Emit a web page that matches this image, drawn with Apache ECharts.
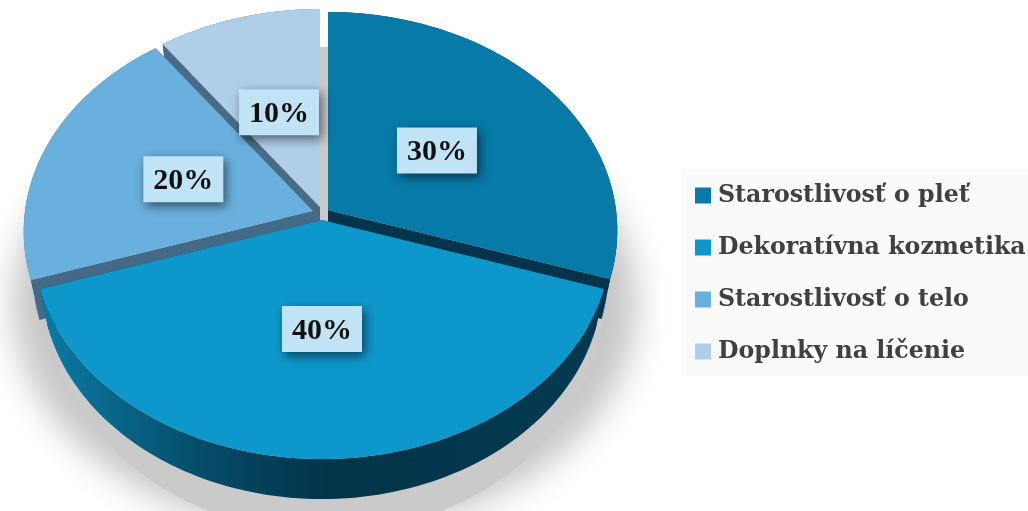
<!DOCTYPE html>
<html>
<head>
<meta charset="utf-8">
<style>html,body{margin:0;padding:0;background:#fff}#chart{width:1028px;height:511px}</style>
<script src="https://cdn.jsdelivr.net/npm/echarts@6/dist/echarts.min.js"></script>
</head>
<body>
<div id="chart"></div>
<script>
// Share of product groups, in percent
const categories = ['Starostlivosť o pleť', 'Dekoratívna kozmetika', 'Starostlivosť o telo', 'Doplnky na líčenie'];
const shares = [30, 40, 20, 10];
const faceColors = ['#077aa8', '#0e97cb', '#6ab0de', '#afcee8'];
const wallColors = ['#03344c', '#03344c', '#456a88', '#4a6b85'];

// Pie geometry: tilted disc seen in perspective, slices pulled apart
const RX = 288, RY = 216.6, PERSPECTIVE = 0.094, DEPTH = 40, BASE_SHRINK = 0.97, LABEL_AT = 0.48;
const apexes = [[328, 210], [322, 220], [313, 211], [320, 207]];

const total = shares.reduce((a, b) => a + b, 0);
function startAngle(i) {
  let sum = 0;
  for (let k = 0; k < i; k++) sum += shares[k];
  return sum / total * 360;
}
// Maps a point of the unit disc, at clockwise angle deg and radius r, to the screen
function project(apex, deg, r) {
  const t = deg * Math.PI / 180;
  const u = Math.sin(t) * r, v = Math.cos(t) * r;
  const d = 1 + PERSPECTIVE * v;
  return [apex[0] + RX * u / d, apex[1] - RY * v / d];
}
function lowered(apex, p) {
  return [apex[0] + (p[0] - apex[0]) * BASE_SHRINK, p[1] + DEPTH];
}
function arcPoints(apex, from, to) {
  const pts = [];
  const n = Math.max(2, Math.ceil((to - from) / 1.5));
  for (let k = 0; k <= n; k++) pts.push(project(apex, from + (to - from) * k / n, 1));
  return pts;
}

const frontWall = new echarts.graphic.LinearGradient(0, 0, 1, 0, [
  { offset: 0, color: '#0b7ba8' },
  { offset: 0.07, color: '#0a6f96' },
  { offset: 0.23, color: '#065574' },
  { offset: 0.37, color: '#04425c' },
  { offset: 0.51, color: '#03344a' },
  { offset: 1, color: '#043a50' }
]);

function renderSlice(i, order) {
  return function (params, api) {
    const value = api.value(0);
    const from = startAngle(i), to = from + value / total * 360;
    const apex = apexes[i];
    const arc = arcPoints(apex, from, to);
    const base = arc.map(p => lowered(apex, p));
    const apexLow = lowered(apex, apex);
    const wall = wallColors[i];
    const z = 10 + order * 10;
    const poly = (points, fill, dz) => ({
      type: 'polygon', z2: z + dz, silent: true,
      shape: { points: points }, style: { fill: fill }
    });
    const mid = (from + to) / 2;
    const c = project(apex, mid, LABEL_AT);
    return {
      type: 'group',
      children: [
        poly([apex, arc[0], base[0], apexLow], wall, 0),
        poly([apex, arc[arc.length - 1], base[base.length - 1], apexLow], wall, 0),
        poly(arc.concat(base.slice().reverse()), i === 1 ? frontWall : wall, 1),
        poly([apex].concat(arc), faceColors[i], 2),
        {
          type: 'rect', z2: 100, silent: true,
          shape: { x: c[0] - 40, y: c[1] - 23, width: 80, height: 46 },
          style: { fill: '#c0e3f5', shadowColor: 'rgba(0,0,0,0.55)', shadowBlur: 10, shadowOffsetX: 3, shadowOffsetY: 4 }
        },
        {
          type: 'text', z2: 101, silent: true,
          style: {
            x: c[0], y: c[1] + 2, text: value + '%', align: 'center', verticalAlign: 'middle',
            fontFamily: 'Liberation Serif', fontWeight: 'bold', fontSize: 30, fill: '#111'
          }
        }
      ]
    };
  };
}

function ellipsePoints(cx, cy, rx, ry) {
  const pts = [];
  for (let a = 0; a < 360; a += 2) {
    const t = a * Math.PI / 180;
    pts.push([cx + rx * Math.cos(t), cy + ry * Math.sin(t)]);
  }
  return pts;
}

// Ground shadow under the pie: a blurred halo drawn from an off-canvas shape,
// plus a firm core that shows through the gaps between the slices
function renderShadow() {
  const far = 3000;
  return {
    type: 'group',
    children: [
      {
        type: 'polygon', z2: 1, silent: true,
        shape: { points: ellipsePoints(325 - far, 304, 312, 228) },
        style: { fill: '#cacaca', shadowColor: '#c6c6c6', shadowBlur: 34, shadowOffsetX: far }
      },
      {
        type: 'polygon', z2: 2, silent: true,
        shape: { points: ellipsePoints(325, 290, 280, 243) },
        style: { fill: '#cacaca' }
      }
    ]
  };
}

// Back slices are painted first so that the nearer ones overlap them
const paintOrder = [3, 2, 0, 1];
const series = [{
  type: 'custom', coordinateSystem: 'none', clip: false, silent: true,
  data: [[total]], renderItem: renderShadow, animation: false
}];
paintOrder.forEach((i, order) => {
  series.push({
    type: 'custom', name: categories[i], coordinateSystem: 'none', silent: true,
    itemStyle: { color: faceColors[i] },
    data: [[shares[i]]], renderItem: renderSlice(i, order), animation: false
  });
});

const chart = echarts.init(document.getElementById('chart'), null, { renderer: 'canvas' });
chart.setOption({
  animation: false,
  backgroundColor: '#fff',
  legend: {
    data: categories.map(name => ({ name: name, icon: 'rect' })),
    orient: 'vertical',
    left: 682, top: 169,
    padding: [11, 3, 9, 13],
    backgroundColor: '#fafafa',
    itemWidth: 16, itemHeight: 16, itemGap: 21,
    selectedMode: false,
    textStyle: {
      fontFamily: 'DejaVu Serif', fontWeight: 'bold', fontSize: 23.7,
      color: '#404040', lineHeight: 30, padding: [1, 0, 0, 2]
    }
  },
  series: series
});
</script>
</body>
</html>
